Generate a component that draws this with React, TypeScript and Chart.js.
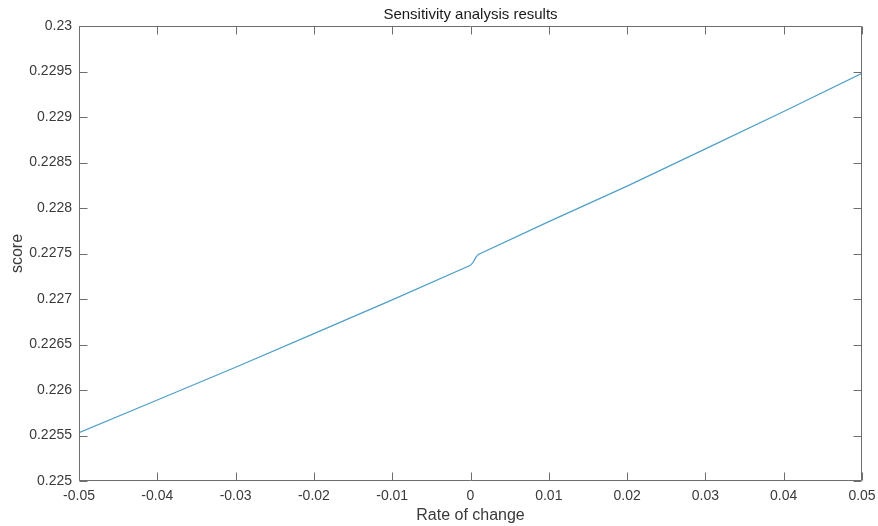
import React, { useEffect, useRef } from "react";
import { Chart, registerables } from "chart.js";
Chart.register(...registerables);

const rateOfChange = [-0.05, -0.04, -0.03, -0.02, -0.01, 0, 0.0003, 0.0007, 0.001, 0.01, 0.02, 0.03, 0.04, 0.05];
const scores = [0.22553, 0.22589, 0.22625, 0.22662, 0.22699, 0.22737, 0.2274, 0.22746, 0.22749, 0.22785, 0.22824, 0.22865, 0.22906, 0.22948];

const xMin = -0.05;
const xMax = 0.05;
const xStep = 0.01;
const yMin = 0.225;
const yMax = 0.23;
const yStep = 0.0005;

const titleText = "Sensitivity analysis results";
const xTitle = "Rate of change";
const yTitle = "score";

const FONT = "'Liberation Sans', Arial, Helvetica, sans-serif";
const AXIS_COLOR = "#6e6e6e";
const TEXT_COLOR = "#3a3a3a";
const LINE_COLOR = "#4f9fc8";
const TICK_LEN = 8;

const boxPlugin = {
  id: "matlabBox",
  afterDatasetsDraw(chart: any) {
    const { ctx, chartArea, scales } = chart;
    const { left, right, top, bottom } = chartArea;
    ctx.save();
    ctx.strokeStyle = AXIS_COLOR;
    ctx.lineWidth = 1;
    ctx.beginPath();
    const L = Math.round(left) + 0.5;
    const R = Math.round(right) - 0.5;
    const T = Math.round(top) + 0.5;
    const B = Math.round(bottom) - 0.5;
    ctx.rect(L, T, R - L, B - T);
    scales.x.ticks.forEach((t: any) => {
      const px = Math.round(scales.x.getPixelForValue(t.value)) + 0.5;
      ctx.moveTo(px, B);
      ctx.lineTo(px, B - TICK_LEN);
      ctx.moveTo(px, T);
      ctx.lineTo(px, T + TICK_LEN);
    });
    scales.y.ticks.forEach((t: any) => {
      const py = Math.round(scales.y.getPixelForValue(t.value)) + 0.5;
      ctx.moveTo(L, py);
      ctx.lineTo(L + TICK_LEN, py);
      ctx.moveTo(R, py);
      ctx.lineTo(R - TICK_LEN, py);
    });
    ctx.stroke();
    ctx.restore();
  },
};

export default function App() {
  const ref = useRef<HTMLCanvasElement | null>(null);
  useEffect(() => {
    if (!ref.current) return;
    const points = rateOfChange.map((x, i) => ({ x, y: scores[i] }));
    const chart = new Chart(ref.current, {
      type: "line",
      data: {
        datasets: [
          {
            data: points,
            borderColor: LINE_COLOR,
            borderWidth: 1.2,
            pointRadius: 0,
            tension: 0,
            fill: false,
          },
        ],
      },
      options: {
        animation: false,
        responsive: false,
        maintainAspectRatio: false,
        layout: { padding: { left: 0, right: 16, top: 0, bottom: 0 } },
        plugins: {
          legend: { display: false },
          tooltip: { enabled: false },
          title: {
            display: true,
            fullSize: false,
            text: titleText,
            color: "#1a1a1a",
            font: { family: FONT, size: 15, weight: "normal" },
            padding: { top: 6, bottom: 2 },
          },
        },
        scales: {
          x: {
            type: "linear",
            min: xMin,
            max: xMax,
            grid: { display: false, drawTicks: false },
            border: { display: false },
            ticks: {
              stepSize: xStep,
              color: TEXT_COLOR,
              padding: 7,
              maxRotation: 0,
              font: { family: FONT, size: 14 },
              callback: (v: any) => Number(Number(v).toFixed(4)).toString(),
            },
            title: {
              display: true,
              text: xTitle,
              color: TEXT_COLOR,
              font: { family: FONT, size: 16 },
              padding: { top: 0, bottom: 1 },
            },
            afterFit: (s: any) => {
              s.height = 45;
              s.paddingLeft = 0;
              s.paddingRight = 0;
            },
          },
          y: {
            type: "linear",
            min: yMin,
            max: yMax,
            grid: { display: false, drawTicks: false },
            border: { display: false },
            ticks: {
              stepSize: yStep,
              color: TEXT_COLOR,
              padding: 7,
              font: { family: FONT, size: 14 },
              callback: (v: any) => Number(Number(v).toFixed(5)).toString(),
            },
            title: {
              display: true,
              text: yTitle,
              color: TEXT_COLOR,
              font: { family: FONT, size: 16 },
              padding: { top: 8, bottom: 0 },
            },
            afterFit: (s: any) => {
              s.width = 79;
              s.paddingTop = 0;
              s.paddingBottom = 0;
            },
          },
        },
      },
      plugins: [boxPlugin],
    });
    return () => chart.destroy();
  }, []);
  return (
    <div style={{ position: "fixed", left: 0, top: 0, width: 878, height: 526, background: "#fff" }}>
      <canvas ref={ref} width={878} height={526} style={{ width: 878, height: 526, display: "block" }} />
    </div>
  );
}
